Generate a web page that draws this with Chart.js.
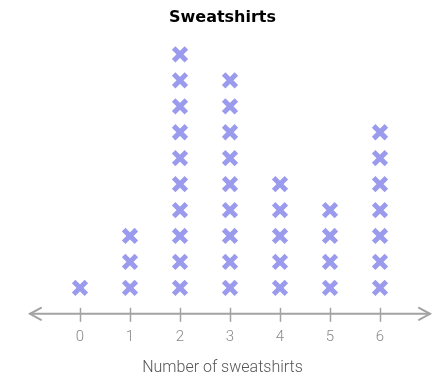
<!DOCTYPE html>
<html><head><meta charset="utf-8">
<script src="https://cdn.jsdelivr.net/npm/chart.js@4"></script>
<style>html,body{margin:0;padding:0;background:#fff}#wrap{width:445px;height:379px}</style>
</head><body><div id="wrap"><canvas id="c"></canvas></div>
<script>
const categories = [0, 1, 2, 3, 4, 5, 6];
const counts = [1, 3, 10, 9, 5, 4, 7];
const tickLabels = ['0', '1', '2', '3', '4', '5', '6'];
const chartTitle = 'Sweatshirts';
const axisTitle = 'Number of sweatshirts';

const points = [];
categories.forEach((v, i) => { for (let k = 1; k <= counts[i]; k++) points.push({x: v, y: k}); });

const axisPlugin = {
  id: 'axisPlugin',
  afterDraw(chart) {
    const ctx = chart.ctx, xs = chart.scales.x, ys = chart.scales.y;
    const y0 = ys.getPixelForValue(0);
    const left = xs.getPixelForValue(-1), right = xs.getPixelForValue(7);
    ctx.save();
    ctx.strokeStyle = '#a3a3a3';
    ctx.lineWidth = 2;
    ctx.lineCap = 'round';
    ctx.beginPath(); ctx.moveTo(left, y0); ctx.lineTo(right, y0); ctx.stroke();
    ctx.beginPath(); ctx.moveTo(left + 11, y0 - 6); ctx.lineTo(left, y0); ctx.lineTo(left + 11, y0 + 6); ctx.stroke();
    ctx.beginPath(); ctx.moveTo(right - 11, y0 - 6); ctx.lineTo(right, y0); ctx.lineTo(right - 11, y0 + 6); ctx.stroke();
    ctx.lineWidth = 1.5;
    ctx.lineCap = 'butt';
    categories.forEach(v => { const px = Math.round(xs.getPixelForValue(v)) + 0.5; ctx.beginPath(); ctx.moveTo(px, y0 - 6); ctx.lineTo(px, y0 + 8); ctx.stroke(); });
    ctx.restore();
  }
};

new Chart(document.getElementById('c'), {
  type: 'scatter',
  data: { datasets: [{ data: points, pointStyle: 'crossRot', radius: 9, borderWidth: 5, borderColor: '#9b9bed', backgroundColor: '#9b9bed', hoverRadius: 9 }] },
  options: {
    responsive: true, maintainAspectRatio: false, animation: false,
    layout: { padding: { left: 15, right: 15, top: 0, bottom: 1 } },
    plugins: {
      legend: { display: false }, tooltip: { enabled: false },
      title: { display: true, text: chartTitle, color: '#000', font: { family: 'DejaVu Sans', size: 16, weight: 'bold' }, padding: { top: 8, bottom: 0 } }
    },
    scales: {
      x: { type: 'linear', min: -1.3, max: 7, grid: { display: false }, border: { display: false },
        afterBuildTicks: s => { s.ticks = categories.map(v => ({ value: v })); },
        ticks: { callback: (v) => tickLabels[categories.indexOf(v)], color: '#888', font: { family: 'Roboto', size: 15, weight: 300 }, padding: 6 },
        title: { display: true, text: axisTitle, color: '#555', font: { family: 'Roboto', size: 16, weight: 300 }, padding: { top: 7, bottom: 0 } } },
      y: { display: false, min: 0, max: 11.05 }
    }
  },
  plugins: [axisPlugin]
});
</script></body></html>
